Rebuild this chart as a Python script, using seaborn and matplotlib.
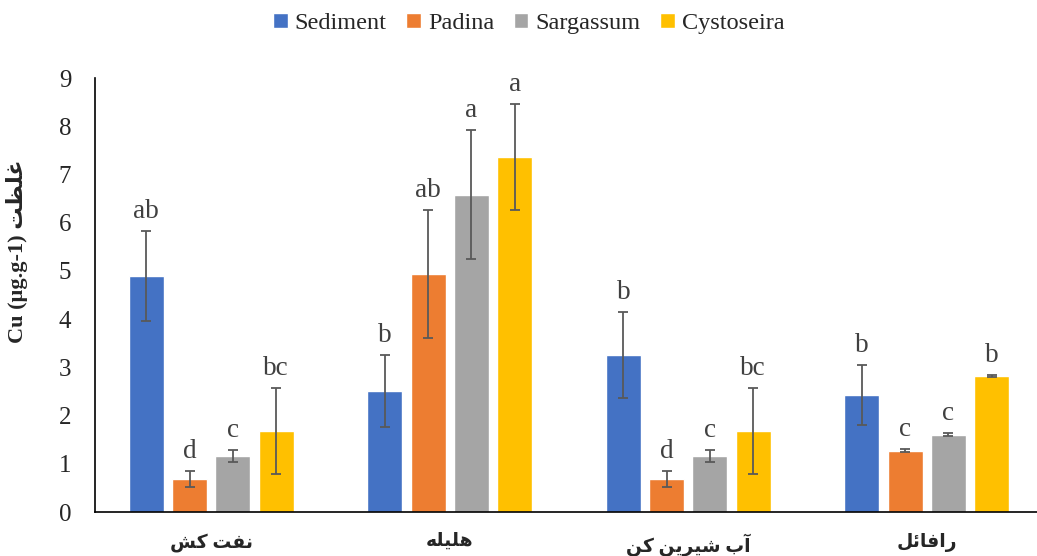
import pandas as pd
import seaborn as sns
import matplotlib.pyplot as plt

# values
sites = ["نفت کش", "هلیله", "آب شیرین کن", "رافائل"]
series = ["Sediment", "Padina", "Sargassum", "Cystoseira"]
sediment = [4.90, 2.51, 3.26, 2.43]
padina = [0.68, 4.94, 0.68, 1.27]
sargassum = [1.16, 6.58, 1.16, 1.60]
cystoseira = [1.68, 7.37, 1.68, 2.82]
sediment_err = [0.93, 0.74, 0.89, 0.62]
padina_err = [0.17, 1.33, 0.17, 0.03]
sargassum_err = [0.13, 1.34, 0.13, 0.03]
cystoseira_err = [0.90, 1.10, 0.90, 0.03]
sediment_lbl = ["ab", "b", "b", "b"]
padina_lbl = ["d", "ab", "d", "c"]
sargassum_lbl = ["c", "a", "c", "c"]
cystoseira_lbl = ["bc", "a", "bc", "b"]
colors = ["#4472C4", "#ED7D31", "#A5A5A5", "#FFC000"]

# matplotlib has no Arabic shaping, so pick presentation forms by hand
# forms: (isolated, final, initial, medial)
forms = {
    "ا": ("\uFE8D", "\uFE8E", None, None),
    "آ": ("\uFE81", "\uFE82", None, None),
    "ر": ("\uFEAD", "\uFEAE", None, None),
    "ب": ("\uFE8F", "\uFE90", "\uFE91", "\uFE92"),
    "ت": ("\uFE95", "\uFE96", "\uFE97", "\uFE98"),
    "ش": ("\uFEB5", "\uFEB6", "\uFEB7", "\uFEB8"),
    "ظ": ("\uFEC5", "\uFEC6", "\uFEC7", "\uFEC8"),
    "غ": ("\uFECD", "\uFECE", "\uFECF", "\uFED0"),
    "ف": ("\uFED1", "\uFED2", "\uFED3", "\uFED4"),
    "ل": ("\uFEDD", "\uFEDE", "\uFEDF", "\uFEE0"),
    "ن": ("\uFEE5", "\uFEE6", "\uFEE7", "\uFEE8"),
    "ه": ("\uFEE9", "\uFEEA", "\uFEEB", "\uFEEC"),
    "ئ": ("\uFE89", "\uFE8A", "\uFE8B", "\uFE8C"),
    "ک": ("\uFB8E", "\uFB8F", "\uFB90", "\uFB91"),
    "ی": ("\uFBFC", "\uFBFD", "\uFBFE", "\uFBFF"),
}


def shape(text):
    out = []
    for i, ch in enumerate(text):
        if ch not in forms:
            out.append(ch)
            continue
        prev = text[i - 1] if i > 0 else ""
        nxt = text[i + 1] if i + 1 < len(text) else ""
        jp = prev in forms and forms[prev][2] is not None
        jn = forms[ch][2] is not None and nxt in forms
        f = forms[ch]
        if jp and jn:
            out.append(f[3])
        elif jp:
            out.append(f[1])
        elif jn:
            out.append(f[2])
        else:
            out.append(f[0])
    return "".join(out)[::-1]


values = [sediment, padina, sargassum, cystoseira]
errs = [sediment_err, padina_err, sargassum_err, cystoseira_err]
lbls = [sediment_lbl, padina_lbl, sargassum_lbl, cystoseira_lbl]

rows = []
for s, vals in zip(series, values):
    for site, v in zip(sites, vals):
        rows.append({"site": shape(site), "series": s, "value": v})
df = pd.DataFrame(rows)

sns.set_style("white")
plt.rcParams["font.family"] = ["Liberation Serif", "DejaVu Sans"]

fig = plt.figure(figsize=(10.37, 5.56), dpi=100)
ax = fig.add_axes([0.0915, 0.0791, 0.9085, 0.7806])

sns.barplot(data=df, x="site", y="value", hue="series", palette=colors,
            width=0.726, gap=0.19, errorbar=None, saturation=1, ax=ax)

for cont, err, lab in zip(ax.containers, errs, lbls):
    for bar, e, t in zip(cont, err, lab):
        x = bar.get_x() + bar.get_width() / 2
        y = bar.get_height()
        ax.errorbar(x, y, yerr=e, fmt="none", ecolor="#595959",
                    elinewidth=1.3, capsize=3.8, capthick=1.3)
        ax.annotate(t, (x, y + e), xytext=(0, 5), textcoords="offset points",
                    ha="center", va="bottom", fontsize=19.5, color="#404040")

ax.set_ylim(0, 9)
ax.set_xlim(-0.488, 3.462)
ax.set_yticks(range(10))
ax.tick_params(axis="y", labelsize=18, length=0, pad=17)
ax.tick_params(axis="x", length=0, pad=15)
for t in ax.get_xticklabels():
    t.set_fontsize(13.5)
    t.set_fontweight("bold")
ax.set_xlabel("")
ax.set_ylabel("Cu (µg.g-1) " + shape("غلظت"), fontsize=16, fontweight="bold")
ax.yaxis.set_label_coords(-0.071, 0.6)
sns.despine(ax=ax)
for sp in ["left", "bottom"]:
    ax.spines[sp].set_color("black")
    ax.spines[sp].set_linewidth(1.2)

ax.legend(loc="center", bbox_to_anchor=(0.51, 0.958),
          bbox_transform=fig.transFigure, ncol=4, frameon=False,
          fontsize=17.5, handlelength=0.6, handleheight=0.6,
          handletextpad=0.3, columnspacing=0.8)

fig.savefig("out.png", dpi=100)
